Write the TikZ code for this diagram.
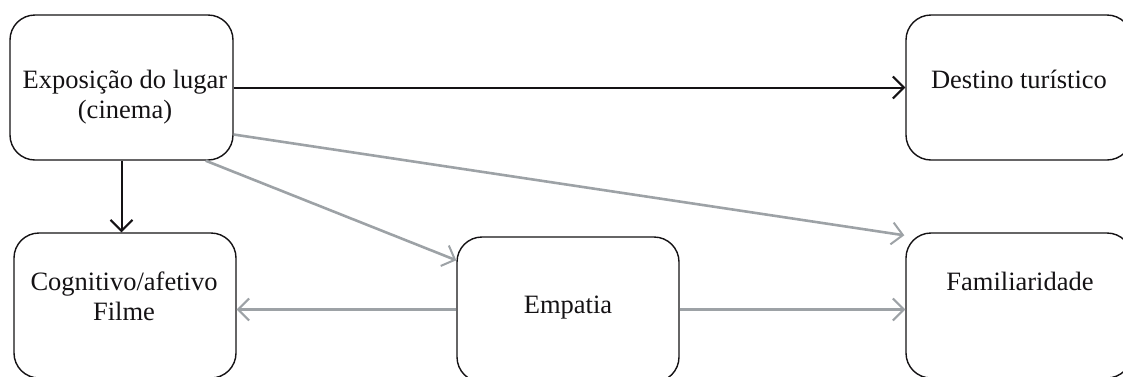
\documentclass[tikz,border=0pt]{standalone}
\usepackage{fontspec}
\setmainfont{Liberation Serif}
\usetikzlibrary{arrows.meta,calc}

\definecolor{linkgray}{RGB}{157,162,166}
\definecolor{inkblack}{RGB}{20,18,20}

\tikzset{
  box/.style={draw=inkblack, line width=1.4pt, rounded corners=25pt,
              inner sep=0pt, minimum height=145pt},
  lbl/.style={font=\fontsize{26.5}{30.5}\selectfont, text=inkblack,
              align=center, inner sep=0pt, anchor=base},
  tip/.style={-{Straight Barb[length=11pt,width=22pt,line width=2pt]}},
  mainlink/.style={tip, draw=inkblack, line width=2pt},
  sidelink/.style={tip, draw=linkgray, line width=2.6pt},
}

\begin{document}
\begin{tikzpicture}[x=1pt, y=-1pt]
  \useasboundingbox (0,0) rectangle (1123,376);
  \clip (0,0) rectangle (1123,376);

  % boxes
  \node[box, minimum width=223pt] (exp)  at (121.5,87.5) {};
  \node[box, minimum width=226pt] (dest) at (1019,87.5)  {};
  \node[box, minimum width=222pt] (cog)  at (125,305.5)  {};
  \node[box, minimum width=222pt] (emp)  at (568,309.5)  {};
  \node[box, minimum width=226pt] (fam)  at (1019,305.5) {};

  % labels (base anchor sits on the last line)
  \node[lbl] (expT)  at (125,118.5) {Exposição do lugar\\(cinema)};
  \node[lbl] (destT) at (1019,88)   {Destino turístico};
  \node[lbl] (cogT)  at (124,320.5) {Cognitivo/afetivo\\Filme};
  \node[lbl] (empT)  at (568,313)   {Empatia};
  \node[lbl] (famT)  at (1020,290)  {Familiaridade};

  % direct effects
  \draw[mainlink] (exp.east) -- (dest.west);
  \draw[mainlink] (exp.south) -- (exp.south |- cog.north);

  % mediated paths
  \draw[sidelink] ($(exp.east)+(0,47)$) -- ($(fam.north west)+(-1,3)$);
  \draw[sidelink] ($(exp.south east)+(-28,0)$) -- ($(emp.north west)+(0,24)$);
  \draw[sidelink] (emp.west) -- (emp.west -| cog.east);
  \draw[sidelink] (emp.east) -- (emp.east -| fam.west);
\end{tikzpicture}
\end{document}
